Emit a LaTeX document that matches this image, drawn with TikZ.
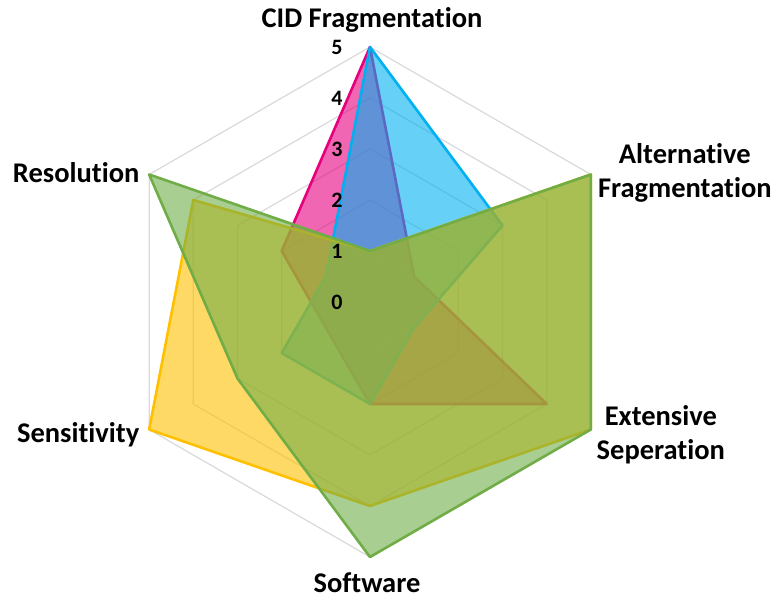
\documentclass[tikz,border=0pt]{standalone}
\usepackage{fontspec}
\setmainfont{Carlito}[Ligatures=NoCommon]
\usetikzlibrary{positioning,calc}

\definecolor{cidpink}{RGB}{230,0,126}
\definecolor{cidblue}{RGB}{0,176,240}
\definecolor{cidyellow}{RGB}{255,192,0}
\definecolor{cidgreen}{RGB}{112,173,71}
\definecolor{gridgray}{RGB}{217,217,217}

\begin{document}
\begin{tikzpicture}[x=1pt,y=1pt,
  ring/.style={draw=gridgray,line width=1.2pt},
  series/.style={draw=#1,fill=#1,fill opacity=0.6,line width=2.6pt,line join=round},
  axislabel/.style={font=\fontsize{28.5}{34}\selectfont\bfseries,align=center,inner sep=0pt},
  ticklabel/.style={font=\fontsize{22}{26}\selectfont\bfseries,inner sep=0pt}
]

\useasboundingbox (-370,-301) rectangle (408,302);

% ===== GRID =====
\foreach \r in {1,...,5} {
  \draw[ring] (90:\r*51) -- (30:\r*51) -- (-30:\r*51) -- (-90:\r*51) -- (210:\r*51) -- (150:\r*51) -- cycle;
}
% outer corners, the axis titles hang off these
\coordinate (v-cid) at (90:255);
\coordinate (v-alt) at (30:255);
\coordinate (v-ext) at (-30:255);
\coordinate (v-soft) at (-90:255);
\coordinate (v-sens) at (210:255);
\coordinate (v-res) at (150:255);

% ===== SERIES (one unit = one score step) =====
\begin{scope}[x=51pt,y=51pt]
\draw[series=cidpink]   (90:5) -- (30:1) -- (-30:4) -- (-90:2) -- (210:1) -- (150:2) -- cycle;
\draw[series=cidblue]   (90:5) -- (30:3) -- (-30:1) -- (-90:2) -- (210:2) -- (150:1) -- cycle;
\draw[series=cidyellow] (90:1) -- (30:5) -- (-30:5) -- (-90:4) -- (210:5) -- (150:4) -- cycle;
\draw[series=cidgreen]  (90:1) -- (30:5) -- (-30:5) -- (-90:5) -- (210:3) -- (150:5) -- cycle;
\end{scope}

% ===== SCALE =====
\foreach \k in {0,...,5} {
  \node[ticklabel] (tick\k) at (-33,\k*51) {\k};
}

% ===== AXIS TITLES =====
\node[axislabel] (cid)  at ($(v-cid)+(2,27)$)    {CID Fragmentation};
\node[axislabel] (alt)  at ($(v-alt)+(94,2)$)    {Alternative\\Fragmentation};
\node[axislabel] (ext)  at ($(v-ext)+(70,-5)$)   {Extensive\\Seperation};
\node[axislabel] (soft) at ($(v-soft)+(-3,-26)$) {Software};
\node[axislabel] (sens) at ($(v-sens)+(-71,-5)$) {Sensitivity};
\node[axislabel] (res)  at ($(v-res)+(-73,2)$)   {Resolution};

\end{tikzpicture}
\end{document}
